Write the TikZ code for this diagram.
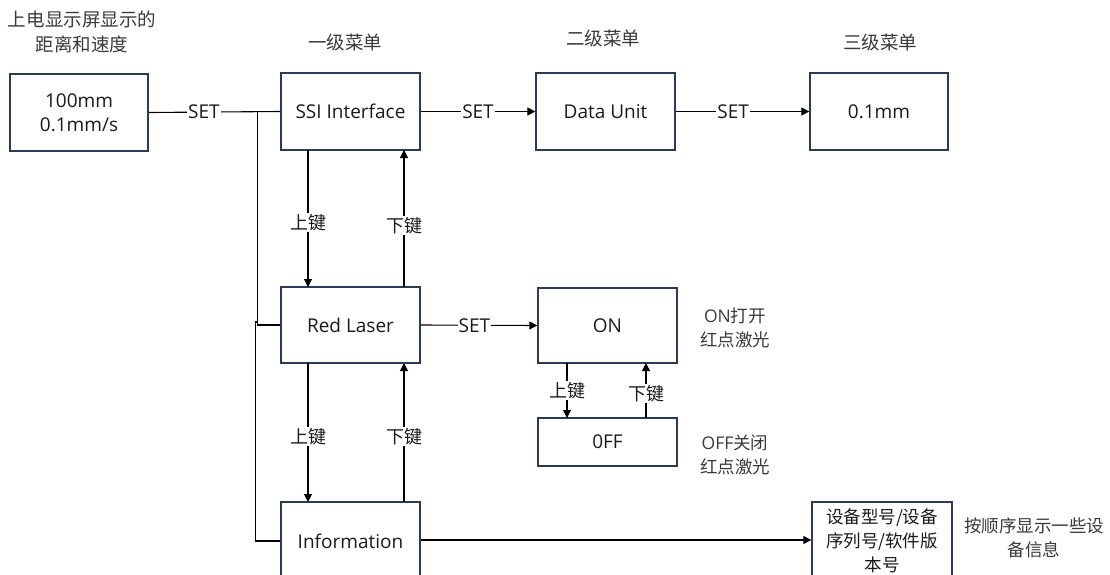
\documentclass[tikz,border=0pt]{standalone}
\usepackage{fontspec}
\setmainfont{Open Sans}
\newfontfamily\cjk{Noto Sans CJK SC}
\usetikzlibrary{arrows.meta}
\definecolor{boxc}{HTML}{2B3A55}
\definecolor{txtc}{HTML}{1A1A1A}
\definecolor{capc}{HTML}{3A3A3A}
\begin{document}
\begin{tikzpicture}[x=1pt,y=-1pt,
  box/.style={draw=boxc,line width=1.3pt,minimum width=139pt,inner sep=0pt,align=center,text=txtc,font=\fontsize{19}{23.5}\selectfont},
  conn/.style={line width=1.1pt,black},
  arr/.style={conn,-{Triangle[width=8pt,length=8pt]}},
  lbl/.style={fill=white,inner sep=1pt,text=txtc,font=\fontsize{19}{20}\selectfont},
  klbl/.style={lbl,font=\cjk\fontsize{18}{20}\selectfont},
  captxt/.style={align=center,text=capc,font=\cjk\fontsize{18.5}{25}\selectfont},
  note/.style={align=center,text=capc,font=\fontsize{17.5}{24}\selectfont}]
\useasboundingbox (0,0) rectangle (1110,575);
\clip (0,0) rectangle (1110,575);
\fill[white] (0,0) rectangle (1110,575);
% captions
\node[captxt] (c0) at (82,32) {上电显示屏显示的\\距离和速度};
\node[captxt] (c1) at (345,42) {一级菜单};
\node[captxt] (c2) at (603,38) {二级菜单};
\node[captxt] (c3) at (880,42) {三级菜单};
% boxes
\node[box,minimum width=138pt,minimum height=77pt] (b0) at (79,112.5) {100mm\\0.1mm/s};
\node[box,minimum height=77pt] (ssi) at (350.5,111.5) {SSI Interface};
\node[box,minimum height=77pt] (du) at (605.5,111.5) {Data Unit};
\node[box,minimum width=138pt,minimum height=77pt] (mm) at (879,111.5) {0.1mm};
\node[box,minimum height=76pt] (red) at (350.5,325) {Red Laser};
\node[box,minimum height=75pt] (on) at (607.5,325.5) {ON};
\node[box,minimum height=48pt] (off) at (607.5,442) {0FF};
\node[box,minimum height=78pt] (info) at (350.5,541) {Information};
\node[box,minimum width=140pt,minimum height=78pt,font=\cjk\fontsize{17.5}{24}\selectfont] (infob) at (882,541) {设备型号/设备\\序列号/软件版\\本号};
% notes
\node[note] (n1) at (735,328) {ON{\cjk 打开}\\{\cjk 红点激光}};
\node[note] (n2) at (735,455) {OFF{\cjk 关闭}\\{\cjk 红点激光}};
\node[note] (n3) at (1034,538) {\cjk 按顺序显示一些设\\\cjk 备信息};
% connectors
\draw[conn] (b0.east) -- node[lbl,pos=0.42] {SET} (ssi.west);
\coordinate (j1) at (257.3,112);
\coordinate (j2) at (257.3,322);
\coordinate (j3) at (255.5,322);
\draw[conn] (j1) |- (red.west);
\draw[conn] (j2) -- (j3) |- (info.west);
\draw[arr] (ssi.east) -- node[lbl] {SET} (du.west);
\draw[arr] (du.east) -- node[lbl,pos=0.43] {SET} (mm.west);
\draw[arr] (red.east) -- node[lbl,pos=0.46] {SET} (on.west);
\draw[arr] (info.east |- 0,540) -- (infob.west |- 0,540);
% up/down between menu boxes
\draw[arr] (308,150) -- node[klbl,pos=0.53] {上键} (308,287);
\draw[arr] (404,287) -- node[klbl,pos=0.45] {下键} (404,150);
\draw[arr] (308,363) -- node[klbl,pos=0.53] {上键} (308,502);
\draw[arr] (404,502) -- node[klbl,pos=0.47] {下键} (404,363);
\draw[arr] (567,363) -- node[klbl,pos=0.5] {上键} (567,418);
\draw[arr] (646,418) -- node[klbl,pos=0.45] {下键} (646,363);
\end{tikzpicture}
\end{document}
